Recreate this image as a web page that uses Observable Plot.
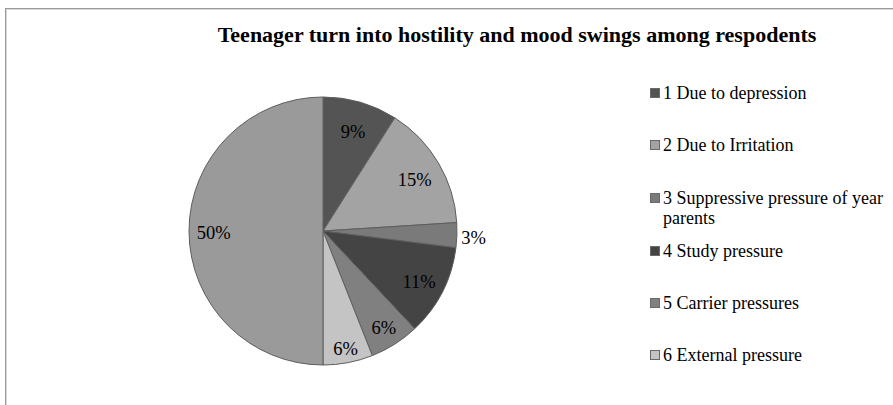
<!DOCTYPE html>
<html>
<head>
<meta charset="utf-8">
<script src="https://cdn.jsdelivr.net/npm/d3@7"></script>
<script src="https://cdn.jsdelivr.net/npm/@observablehq/plot@0.6"></script>
<style>
  html, body { margin: 0; padding: 0; background: #fff; }
  #wrap { position: relative; width: 893px; height: 405px; overflow: hidden; font-family: "Liberation Serif", "Times New Roman", serif; }
  #frame { position: absolute; left: 5px; top: 8px; width: 1000px; height: 1000px; border: 1px solid #9a9a9a; box-shadow: inset 1px 1px 0 #d8d8d8; }
  #title { position: absolute; left: 0; top: 22px; width: 1034px; text-align: center; font-weight: bold; font-size: 22px; color: #000; white-space: nowrap; }
  #chart { position: absolute; left: 0; top: 0; }
  #chart svg text { font-family: "Liberation Serif", "Times New Roman", serif; }
  #legend { position: absolute; left: 650px; top: 0; font-size: 18px; color: #000; }
  .item { position: absolute; left: 0; white-space: nowrap; line-height: 20px; }
  .sw { position: absolute; left: 0; top: 5px; width: 8px; height: 8px; border: 1px solid #6a6a6a; }
  .lab { position: absolute; left: 13px; top: 0; }
</style>
</head>
<body>
<div id="wrap">
  <div id="frame"></div>
  <div id="title"></div>
  <div id="chart"></div>
  <div id="legend"></div>
</div>
<script>
// ---- data ----
const titleText = "Teenager turn into hostility and mood swings among respodents";
const categories = ["1 Due to depression", "2 Due to Irritation", "3 Suppressive pressure of year parents", "4 Study pressure", "5 Carrier pressures", "6 External pressure", "7"];
const values = [9, 15, 3, 11, 6, 6, 50];
const labels = ["9%", "15%", "3%", "11%", "6%", "6%", "50%"];
const colors = ["#545454", "#a3a3a3", "#7a7a7a", "#444444", "#808080", "#c4c4c4", "#9a9a9a"];
const legendCount = 6;

// ---- layout ----
const cx = 323, cy = 231, R = 134;
const labelRadius = [0.79, 0.79, 1.12, 0.8, 0.84, 0.88, 0.82];

const pie = d3.pie().sort(null).value(d => d.value)(values.map((v, i) => ({value: v, i})));
const slices = pie.map(p => ({
  i: p.data.i, startAngle: p.startAngle, endAngle: p.endAngle,
  mid: (p.startAngle + p.endAngle) / 2
}));
const labelData = slices.map(s => ({
  text: labels[s.i],
  x: labelRadius[s.i] * Math.sin(s.mid),
  y: labelRadius[s.i] * Math.cos(s.mid)
}));

// Pie mark rendered through Plot's x/y scales (unit circle in data space)
function pieMark(data) {
  return function(index, scales, values, dimensions, context) {
    const x0 = scales.x(0), y0 = scales.y(0);
    const r = Math.abs(scales.x(1) - scales.x(0));
    const arc = d3.arc().innerRadius(0).outerRadius(r);
    const g = d3.create("svg:g").attr("transform", `translate(${x0},${y0})`);
    g.selectAll("path").data(data).join("path")
      .attr("d", d => arc(d))
      .attr("fill", d => colors[d.i])
      .attr("stroke", "#5e5e5e")
      .attr("stroke-width", 1)
      .attr("stroke-linejoin", "round");
    return g.node();
  };
}

const chart = Plot.plot({
  width: 893,
  height: 405,
  margin: 0,
  style: {background: "transparent", overflow: "visible", fontFamily: "Liberation Serif, serif"},
  x: {domain: [-1, 1], range: [cx - R, cx + R], axis: null},
  y: {domain: [-1, 1], range: [cy + R, cy - R], axis: null},
  marks: [
    pieMark(slices),
    Plot.text(labelData, {
      x: "x", y: "y", text: "text", dy: 2,
      fontSize: 18.5, fill: "#000"
    })
  ]
});
document.getElementById("chart").appendChild(chart);

document.getElementById("title").textContent = titleText;

// Legend
const legendRows = [83, 135, 188, 241, 293, 345];
const legend = document.getElementById("legend");
categories.slice(0, legendCount).forEach((c, i) => {
  const item = document.createElement("div");
  item.className = "item";
  item.style.top = legendRows[i] + "px";
  const sw = document.createElement("div");
  sw.className = "sw";
  sw.style.background = colors[i];
  const lab = document.createElement("div");
  lab.className = "lab";
  if (i === 2) {
    lab.innerHTML = "3 Suppressive pressure of year<br>parents";
  } else {
    lab.textContent = c;
  }
  item.appendChild(sw);
  item.appendChild(lab);
  legend.appendChild(item);
});
</script>
</body>
</html>
